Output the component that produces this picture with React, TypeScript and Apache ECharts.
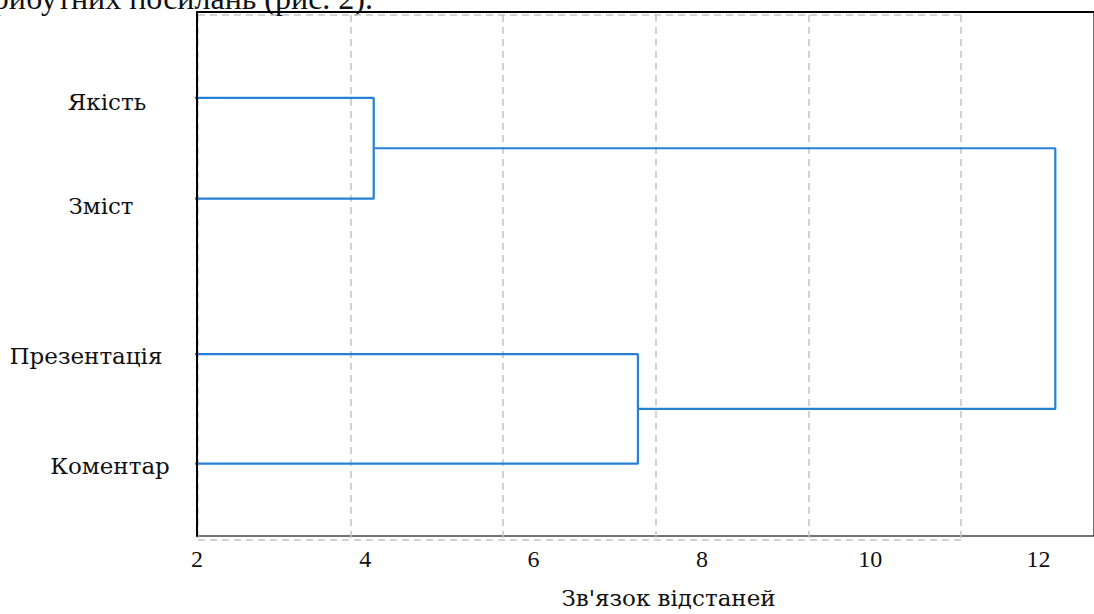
import React, { useEffect, useRef } from "react";
import * as echarts from "echarts";

// Leaves (top to bottom) and their vertical positions (0 = top, 100 = bottom of plot)
const LEAVES = ["Якість", "Зміст", "Презентація", "Коментар"];
const LEAF_POS = [16.4, 35.6, 65.3, 86.2];
// Merges: [childA, childB, linkage distance]; node indices continue after leaves
const MERGE_A = [0, 2, 4];
const MERGE_B = [1, 3, 5];
const MERGE_H = [4.1, 7.24, 12.2];
const X_TICKS = [2, 4, 6, 8, 10, 12];
const X_TITLE = "Зв'язок відстаней";
const HEADER_TEXT = "атрибутних посилань (рис. 2).";

const BLUE = "#2580d6";

function buildSegments() {
  const nodeX: number[] = LEAVES.map(() => 0);
  const nodeY: number[] = LEAF_POS.slice();
  const segs: number[][][] = [];
  for (let i = 0; i < MERGE_H.length; i++) {
    const a = MERGE_A[i];
    const b = MERGE_B[i];
    const h = MERGE_H[i];
    segs.push([
      [nodeX[a], nodeY[a]],
      [h, nodeY[a]],
      [h, nodeY[b]],
      [nodeX[b], nodeY[b]],
    ]);
    nodeX.push(h);
    nodeY.push((nodeY[a] + nodeY[b]) / 2);
  }
  return segs;
}

export default function App() {
  const ref = useRef<HTMLDivElement>(null);
  useEffect(() => {
    if (!ref.current) return;
    const chart = echarts.init(ref.current, null, { renderer: "svg" });
    const segs = buildSegments();
    const richPads: any = {
      l0: { padding: [8, 0, 0, 6] },
      l1: { padding: [14, 6, 0, 0] },
      l2: { padding: [4, 36, 0, 0] },
      l3: { padding: [4, 0, 0, 12] },
    };
    Object.keys(richPads).forEach((k) => {
      richPads[k].fontFamily = "DejaVu Serif";
      richPads[k].fontSize = 23;
      richPads[k].color = "#111";
    });
    chart.setOption({
      animation: false,
      backgroundColor: "#fff",
      graphic: [
        {
          type: "text",
          x: 373,
          y: -2,
          style: {
            text: HEADER_TEXT,
            fontFamily: "Liberation Serif",
            fontSize: 32,
            fill: "#111",
            textAlign: "right",
            textVerticalAlign: "middle",
          },
        },
      ],
      grid: [
        {
          left: 197,
          right: -5,
          top: 12,
          bottom: 72,
          show: true,
          borderColor: "#444",
          borderWidth: 1.5,
          backgroundColor: "transparent",
        },
        { left: 198, right: 133, top: 15, bottom: 74 },
      ],
      xAxis: [
        {
          type: "value",
          gridIndex: 0,
          min: 2,
          max: 12.66,
          interval: 2,
          z: 5,
          name: X_TITLE,
          nameLocation: "middle",
          nameGap: 50,
          nameTextStyle: {
            fontFamily: "DejaVu Serif",
            fontSize: 23,
            color: "#111",
            padding: [0, 0, 0, 46],
          },
          axisLine: { show: true, lineStyle: { color: "#000", width: 2 } },
          axisTick: { show: false },
          splitLine: { show: false },
          axisLabel: {
            showMaxLabel: false,
            margin: 11,
            fontFamily: "Liberation Serif",
            fontSize: 24,
            color: "#111",
            formatter: (v: number) => (X_TICKS.indexOf(v) >= 0 ? String(v) : ""),
          },
        },
        {
          type: "value",
          gridIndex: 1,
          min: 0,
          max: 5,
          interval: 1,
          z: 0,
          axisLine: { show: false },
          axisTick: { show: false },
          axisLabel: { show: false },
          splitLine: {
            show: true,
            lineStyle: { color: "#c4c4c4", width: 1.5, type: [7, 5] },
          },
        },
      ],
      yAxis: [
        {
          type: "value",
          gridIndex: 0,
          inverse: true,
          min: 0,
          max: 100,
          z: 5,
          axisLine: { show: true, lineStyle: { color: "#000", width: 2 } },
          axisTick: { show: false },
          splitLine: { show: false },
          axisLabel: {
            customValues: LEAF_POS,
            align: "center",
            margin: 93,
            formatter: (v: number) => {
              let idx = 0;
              let best = Infinity;
              LEAF_POS.forEach((p, i) => {
                const d = Math.abs(p - v);
                if (d < best) {
                  best = d;
                  idx = i;
                }
              });
              return `{l${idx}|${LEAVES[idx]}}`;
            },
            rich: richPads,
          },
        },
        {
          type: "value",
          gridIndex: 1,
          min: 0,
          max: 1,
          interval: 1,
          z: 0,
          axisLine: { show: false },
          axisTick: { show: false },
          axisLabel: { show: false },
          splitLine: {
            show: true,
            lineStyle: { color: "#c4c4c4", width: 1.5, type: [7, 5] },
          },
        },
      ],
      series: [
        {
          type: "line",
          xAxisIndex: 1,
          yAxisIndex: 1,
          data: [],
          silent: true,
        },
        ...segs.map((s) => ({
          type: "line",
          xAxisIndex: 0,
          yAxisIndex: 0,
          data: s,
          clip: true,
          showSymbol: false,
          symbol: "none",
          z: 3,
          lineStyle: { color: BLUE, width: 2.2 },
        })),
      ],
    });
    return () => chart.dispose();
  }, []);
  return (
    <div
      ref={ref}
      style={{ position: "absolute", left: 0, top: 0, width: 1094, height: 614 }}
    />
  );
}
